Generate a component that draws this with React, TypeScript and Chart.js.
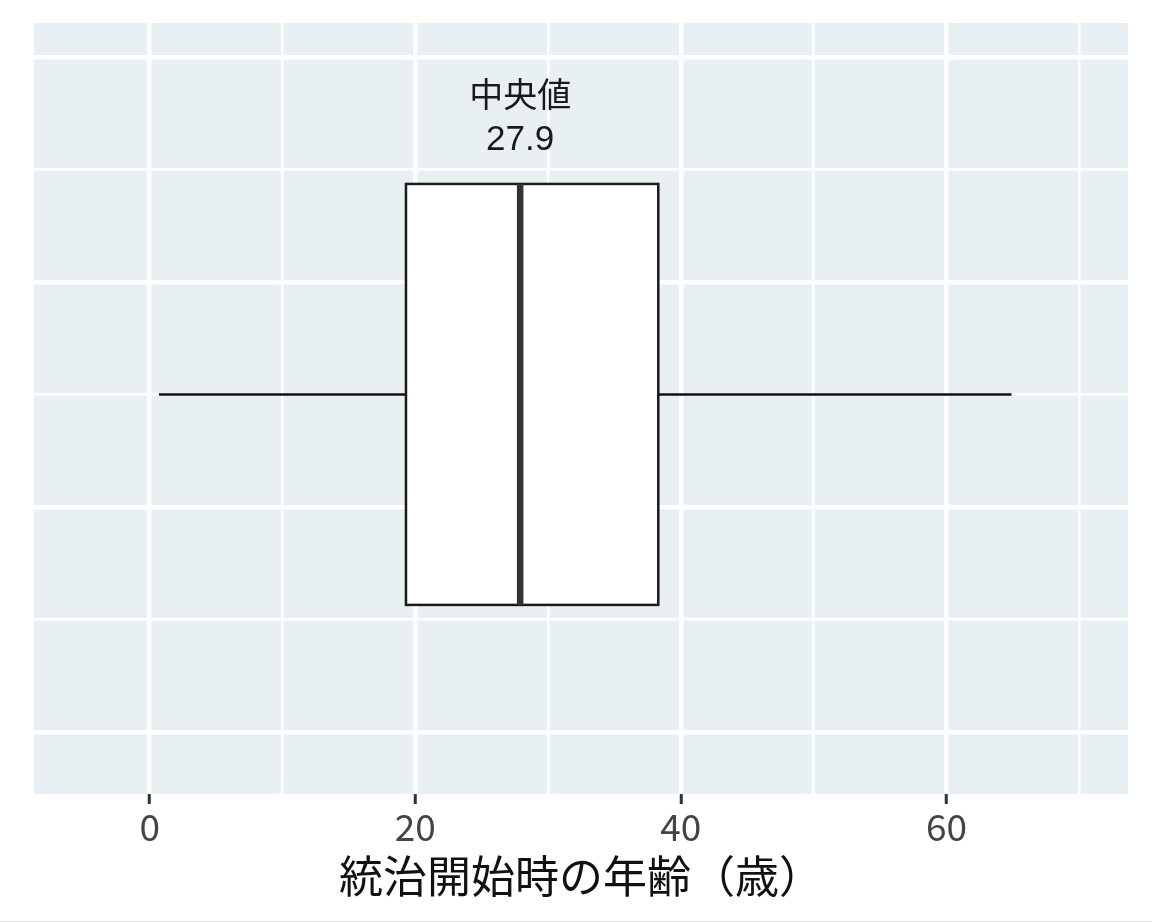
import React, { useEffect, useRef } from 'react';
import { Chart, registerables } from 'chart.js';

Chart.register(...registerables);

// age at start of reign - box plot statistics
const whiskerLow = 0.7;
const q1 = 19.3;
const median = 27.9;
const q3 = 38.3;
const whiskerHigh = 64.9;

// the single box sits on row 3 of the (hidden) y axis
const boxRow = 3;
const boxHalfHeight = 1.87;

const xGrid = [0, 10, 20, 30, 40, 50, 60, 70];
const xLabels = ['0', '', '20', '', '40', '', '60', ''];
const yGrid = [0, 1, 2, 3, 4, 5, 6];
const xRange = [-8.71, 73.67];
const yRange = [-0.55, 6.3];

const medianLabel = ['中央値', median.toFixed(1)];
const axisTitle = '統治開始時の年齢（歳）';

const panelBackground = {
    id: 'panelBackground',
    beforeDraw(chart: any) {
        const { ctx, chartArea } = chart;
        ctx.save();
        ctx.fillStyle = '#e8f0f4';
        ctx.fillRect(chartArea.left, chartArea.top, chartArea.right - chartArea.left, chartArea.bottom - chartArea.top);
        ctx.restore();
    },
};

const boxDraw = {
    id: 'boxDraw',
    afterDatasetsDraw(chart: any) {
        const { ctx } = chart;
        const xs = chart.scales.x;
        const ys = chart.scales.y;
        const left = xs.getPixelForValue(q1);
        const right = xs.getPixelForValue(q3);
        const top = ys.getPixelForValue(boxRow + boxHalfHeight);
        const bottom = ys.getPixelForValue(boxRow - boxHalfHeight);
        ctx.save();
        ctx.fillStyle = '#ffffff';
        ctx.fillRect(left, top, right - left, bottom - top);
        ctx.strokeStyle = '#1a1a1a';
        ctx.lineWidth = 2.5;
        ctx.strokeRect(left, top, right - left, bottom - top);
        // median
        const mx = xs.getPixelForValue(median);
        ctx.strokeStyle = '#333333';
        ctx.lineWidth = 6.5;
        ctx.beginPath();
        ctx.moveTo(mx, top);
        ctx.lineTo(mx, bottom);
        ctx.stroke();

        // label above the box
        ctx.fillStyle = '#1a1a1a';
        ctx.textAlign = 'center';
        ctx.textBaseline = 'middle';
        ctx.font = '34px "Noto Sans CJK JP"';
        ctx.fillText(medianLabel[0], mx, ys.getPixelForValue(5.67));
        ctx.font = '35px "Liberation Sans"';
        ctx.fillText(medianLabel[1], mx, ys.getPixelForValue(5.26));
        ctx.restore();
    },
};

const App: React.FC = () => {
    const chartRef = useRef<HTMLCanvasElement>(null);

    useEffect(() => {
        if (!chartRef.current) return;

        const whisker = {
            type: 'line' as const,
            showLine: true,
            borderColor: '#111111',
            borderWidth: 2.5,
            pointRadius: 0,
            fill: false,
        };

        const myChart = new Chart(chartRef.current, {
            type: 'scatter',
            data: {
                datasets: [
                    { ...whisker, data: [{ x: whiskerLow, y: boxRow }, { x: q1, y: boxRow }] },
                    { ...whisker, data: [{ x: q3, y: boxRow }, { x: whiskerHigh, y: boxRow }] },
                ] as any,
            },
            options: {
                animation: false,
                responsive: true,
                maintainAspectRatio: false,
                layout: { padding: { left: 34, top: 23, right: 24, bottom: 0 } },
                plugins: {
                    legend: { display: false },
                    tooltip: { enabled: false },
                },
                scales: {
                    x: {
                        type: 'linear',
                        position: 'bottom',
                        min: xRange[0],
                        max: xRange[1],
                        afterBuildTicks: (scale: any) => {
                            scale.ticks = xGrid.map(v => ({ value: v }));
                        },
                        afterFit: (scale: any) => {
                            scale.height = 127;
                        },
                        border: { display: false },
                        grid: {
                            color: '#ffffff',
                            lineWidth: (c: any) => (c.tick && c.tick.value % 20 === 0 ? 4.5 : 2.5),
                            drawTicks: true,
                            tickLength: 10,
                            tickWidth: 3,
                            tickColor: (c: any) => (c.tick && c.tick.value % 20 === 0 ? '#333333' : 'rgba(0,0,0,0)'),
                        },
                        ticks: {
                            autoSkip: false,
                            maxRotation: 0,
                            padding: 1,
                            color: '#444444',
                            font: { size: 37, family: '"Noto Sans CJK JP"' },
                            callback: (value: any) => xLabels[xGrid.indexOf(Number(value))] ?? '',
                        },
                        title: {
                            display: true,
                            text: axisTitle,
                            color: '#111111',
                            font: { size: 44, family: '"Noto Sans CJK JP"' },
                            padding: { top: 0, bottom: 18 },
                        },
                    },
                    y: {
                        type: 'linear',
                        min: yRange[0],
                        max: yRange[1],
                        afterBuildTicks: (scale: any) => {
                            scale.ticks = yGrid.map(v => ({ value: v }));
                        },
                        afterFit: (scale: any) => {
                            scale.width = 0;
                        },
                        border: { display: false },
                        grid: {
                            color: '#ffffff',
                            lineWidth: (c: any) => (c.tick && c.tick.value % 2 === 0 ? 4.5 : 2.5),
                            drawTicks: false,
                        },
                        ticks: { display: false },
                    },
                },
            },
            plugins: [panelBackground, boxDraw],
        });

        return () => {
            myChart.destroy(); // Clean up
        };
    }, []);

    return (
        <div style={{ position: 'fixed', left: 0, top: 0, width: 1152, height: 921, background: '#ffffff', borderBottom: '1px solid #e2e2e2' }}>
            <canvas ref={chartRef} />
        </div>
    );
};

export default App;
